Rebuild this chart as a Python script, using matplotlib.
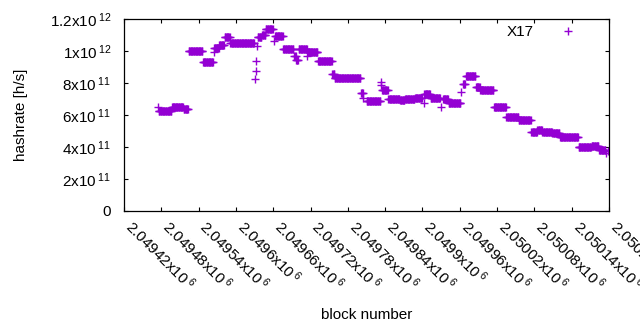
import numpy as np
import matplotlib
matplotlib.use("Agg")
import matplotlib.pyplot as plt
from matplotlib.ticker import FixedLocator

plt.rcParams['font.family'] = ['Liberation Sans', 'DejaVu Sans']

# runs of blocks with the same hashrate (start block, end block, value in 1e11 h/s)
run_start = [2049475, 2049476, 2049497, 2049516, 2049524, 2049547, 2049564, 2049565,
             2049573, 2049582, 2049591, 2049630, 2049632, 2049633, 2049634, 2049635,
             2049642, 2049648, 2049662, 2049663, 2049676, 2049694, 2049697, 2049701,
             2049715, 2049716, 2049732, 2049755, 2049759, 2049801, 2049805, 2049810,
             2049833, 2049834, 2049835, 2049845, 2049864, 2049872, 2049888, 2049902,
             2049903, 2049913, 2049930, 2049933, 2049942, 2049962, 2049965, 2049970,
             2049986, 2049993, 2050015, 2050035, 2050055, 2050075, 2050085, 2050093,
             2050109, 2050121, 2050151, 2050172, 2050184, 2050195, 2050198]
run_end = [2049475, 2049496, 2049515, 2049523, 2049546, 2049563, 2049564, 2049572,
           2049581, 2049590, 2049629, 2049630, 2049632, 2049633, 2049634, 2049641,
           2049647, 2049659, 2049662, 2049675, 2049692, 2049696, 2049700, 2049714,
           2049715, 2049731, 2049754, 2049758, 2049800, 2049804, 2049805, 2049832,
           2049833, 2049834, 2049844, 2049863, 2049871, 2049887, 2049899, 2049902,
           2049912, 2049928, 2049930, 2049941, 2049961, 2049962, 2049968, 2049985,
           2049992, 2050014, 2050034, 2050054, 2050074, 2050084, 2050092, 2050108,
           2050120, 2050150, 2050171, 2050183, 2050194, 2050195, 2050198]
run_value = [6.48, 6.22, 6.48, 6.35, 10.03, 9.30, 9.95, 10.18,
             10.37, 10.85, 10.48, 8.23, 8.73, 9.35, 10.31, 10.85,
             11.00, 11.36, 10.60, 10.92, 10.14, 9.70, 9.45, 10.10,
             9.70, 9.92, 9.40, 8.55, 8.29, 7.37, 7.04, 6.86,
             8.08, 7.88, 7.56, 7.00, 6.94, 6.98, 7.04, 6.73,
             7.29, 7.06, 6.52, 6.98, 6.78, 7.42, 7.92, 8.42,
             7.75, 7.54, 6.52, 5.89, 5.66, 4.96, 5.04, 4.96,
             4.85, 4.60, 4.00, 4.08, 3.81, 3.64, 3.76]

x_ticks = [2049420 + 60 * i for i in range(14)]
x_labels = ['2.04942', '2.04948', '2.04954', '2.0496', '2.04966', '2.04972', '2.04978',
            '2.04984', '2.0499', '2.04996', '2.05002', '2.05008', '2.05014', '2.0502']
y_ticks = [0, 2e11, 4e11, 6e11, 8e11, 1e12, 1.2e12]
y_labels = ['0', '2x10\\,{}^{11}', '4x10\\,{}^{11}', '6x10\\,{}^{11}', '8x10\\,{}^{11}',
            '1x10\\,{}^{12}', '1.2x10\\,{}^{12}']

blocks = np.concatenate([np.arange(s, e + 1) for s, e in zip(run_start, run_end)])
rates = np.concatenate([np.full(e - s + 1, v * 1e11) for s, e, v in zip(run_start, run_end, run_value)])

color = '#9400D3'

fig = plt.figure(figsize=(6.4, 3.3), dpi=100)
ax = fig.add_axes([124 / 640, 1 - 211 / 330, 485 / 640, 192 / 330])

ax.plot(blocks, rates, linestyle='none', marker='+', color=color,
        markersize=5.5, markeredgewidth=1.0, label='X17')

ax.set_xlim(2049420, 2050200)
ax.set_ylim(0, 1.2e12)

ax.xaxis.set_major_locator(FixedLocator(x_ticks))
ax.set_xticklabels([r'$\mathregular{%sx10\,{}^{6}}$' % s for s in x_labels],
                   rotation=-45, ha='left', va='baseline', rotation_mode='anchor')
ax.yaxis.set_major_locator(FixedLocator(y_ticks))
ax.set_yticklabels([r'$\mathregular{%s}$' % s for s in y_labels])

ax.tick_params(direction='in', length=3, width=0.8, top=True, right=True,
               labelsize=11, colors='black')
ax.tick_params(axis='x', pad=12.5)
ax.tick_params(axis='y', pad=9)
for sp in ax.spines.values():
    sp.set_linewidth(0.9)

ax.set_xlabel('block number', fontsize=11, labelpad=10)
ax.set_ylabel('hashrate [h/s]', fontsize=11, labelpad=16)

ax.legend(loc='upper right', frameon=False, markerfirst=False, fontsize=11,
          handlelength=2.5, handletextpad=1.0, borderaxespad=0.0,
          bbox_to_anchor=(0.967, 1.0))

fig.savefig('out.png', dpi=100)
